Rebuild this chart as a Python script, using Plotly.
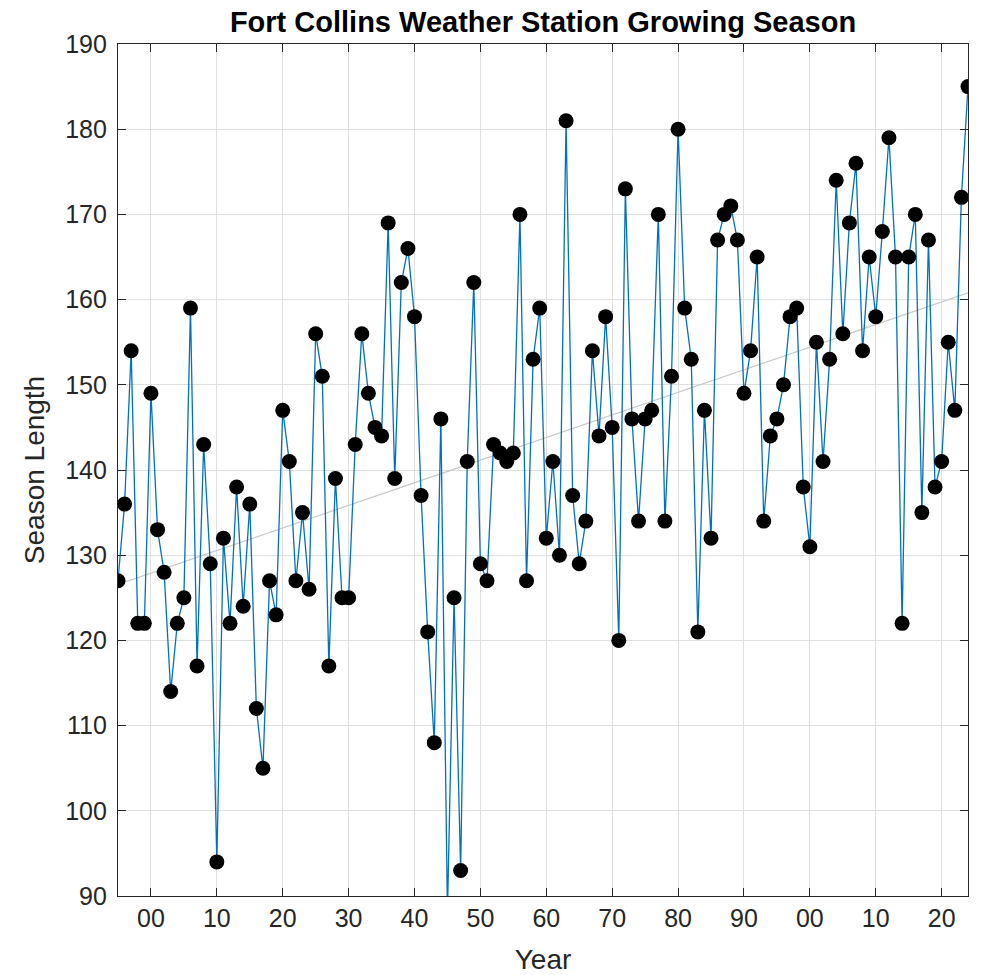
import numpy as np
import plotly.graph_objects as go

years = list(range(1895, 2025))
season_length = [
    127, 136, 154, 122, 122, 149, 133, 128, 114, 122,   # 1895-1904
    125, 159, 117, 143, 129, 94, 132, 122, 138, 124,    # 1905-1914
    136, 112, 105, 127, 123, 147, 141, 127, 135, 126,   # 1915-1924
    156, 151, 117, 139, 125, 125, 143, 156, 149, 145,   # 1925-1934
    144, 169, 139, 162, 166, 158, 137, 121, 108, 146,   # 1935-1944
    88, 125, 93, 141, 162, 129, 127, 143, 142, 141,     # 1945-1954
    142, 170, 127, 153, 159, 132, 141, 130, 181, 137,   # 1955-1964
    129, 134, 154, 144, 158, 145, 120, 173, 146, 134,   # 1965-1974
    146, 147, 170, 134, 151, 180, 159, 153, 121, 147,   # 1975-1984
    132, 167, 170, 171, 167, 149, 154, 165, 134, 144,   # 1985-1994
    146, 150, 158, 159, 138, 131, 155, 141, 153, 174,   # 1995-2004
    156, 169, 176, 154, 165, 158, 168, 179, 165, 122,   # 2005-2014
    165, 170, 135, 167, 138, 141, 155, 147, 172, 185,   # 2015-2024
]
x_tickvals = [1900, 1910, 1920, 1930, 1940, 1950, 1960, 1970, 1980, 1990, 2000, 2010, 2020]
x_ticktext = ["00", "10", "20", "30", "40", "50", "60", "70", "80", "90", "00", "10", "20"]
y_tickvals = [90, 100, 110, 120, 130, 140, 150, 160, 170, 180, 190]

# linear trend (least squares fit of the data)
coef = np.polyfit(np.array(years, dtype=float), np.array(season_length, dtype=float), 1)
trend = np.polyval(coef, np.array(years, dtype=float))

FONT = "Liberation Sans, Arial, Helvetica, sans-serif"
AX = "#262626"
GRID = "#dfdfdf"

fig = go.Figure()
fig.add_trace(go.Scatter(
    x=years, y=trend, mode="lines",
    line=dict(color="#c8c8c8", width=1.2),
    hoverinfo="skip", showlegend=False,
))
fig.add_trace(go.Scatter(
    x=years, y=season_length, mode="lines+markers",
    line=dict(color="#0072BD", width=1.3),
    marker=dict(color="black", size=15, line=dict(width=0)),
    showlegend=False,
))

fig.update_layout(
    width=989, height=975,
    margin=dict(l=118, r=21, t=44, b=79),
    paper_bgcolor="white", plot_bgcolor="white",
    font=dict(family=FONT, color=AX, size=25),
    title=dict(
        text="<b>Fort Collins Weather Station Growing Season</b>",
        x=0.5, xanchor="center", xref="paper",
        y=0.9774, yanchor="middle",
        font=dict(family=FONT, size=29, color="black"),
    ),
    xaxis=dict(
        range=[1895, 2024], automargin=False,
        tickmode="array", tickvals=x_tickvals, ticktext=x_ticktext,
        ticks="inside", ticklen=8, tickwidth=1.2, tickcolor=AX,
        showline=True, linecolor=AX, linewidth=1.3, mirror="ticks",
        showgrid=True, gridcolor=GRID, gridwidth=1,
        zeroline=False,
        tickfont=dict(family=FONT, size=25, color=AX),
        ticklabelstandoff=0,
        title=dict(text="Year", font=dict(family=FONT, size=28, color=AX), standoff=18),
    ),
    yaxis=dict(
        range=[90, 190], automargin=False,
        tickmode="array", tickvals=y_tickvals,
        ticks="inside", ticklen=8, tickwidth=1.2, tickcolor=AX,
        showline=True, linecolor=AX, linewidth=1.3, mirror="ticks",
        showgrid=True, gridcolor=GRID, gridwidth=1,
        zeroline=False,
        tickfont=dict(family=FONT, size=25, color=AX),
        ticklabelstandoff=5,
        title=dict(text="Season Length", font=dict(family=FONT, size=28, color=AX), standoff=12),
    ),
)

fig.write_html(
    "out.html",
    config={"displayModeBar": False},
    post_script="document.body.style.margin='0';",
)
